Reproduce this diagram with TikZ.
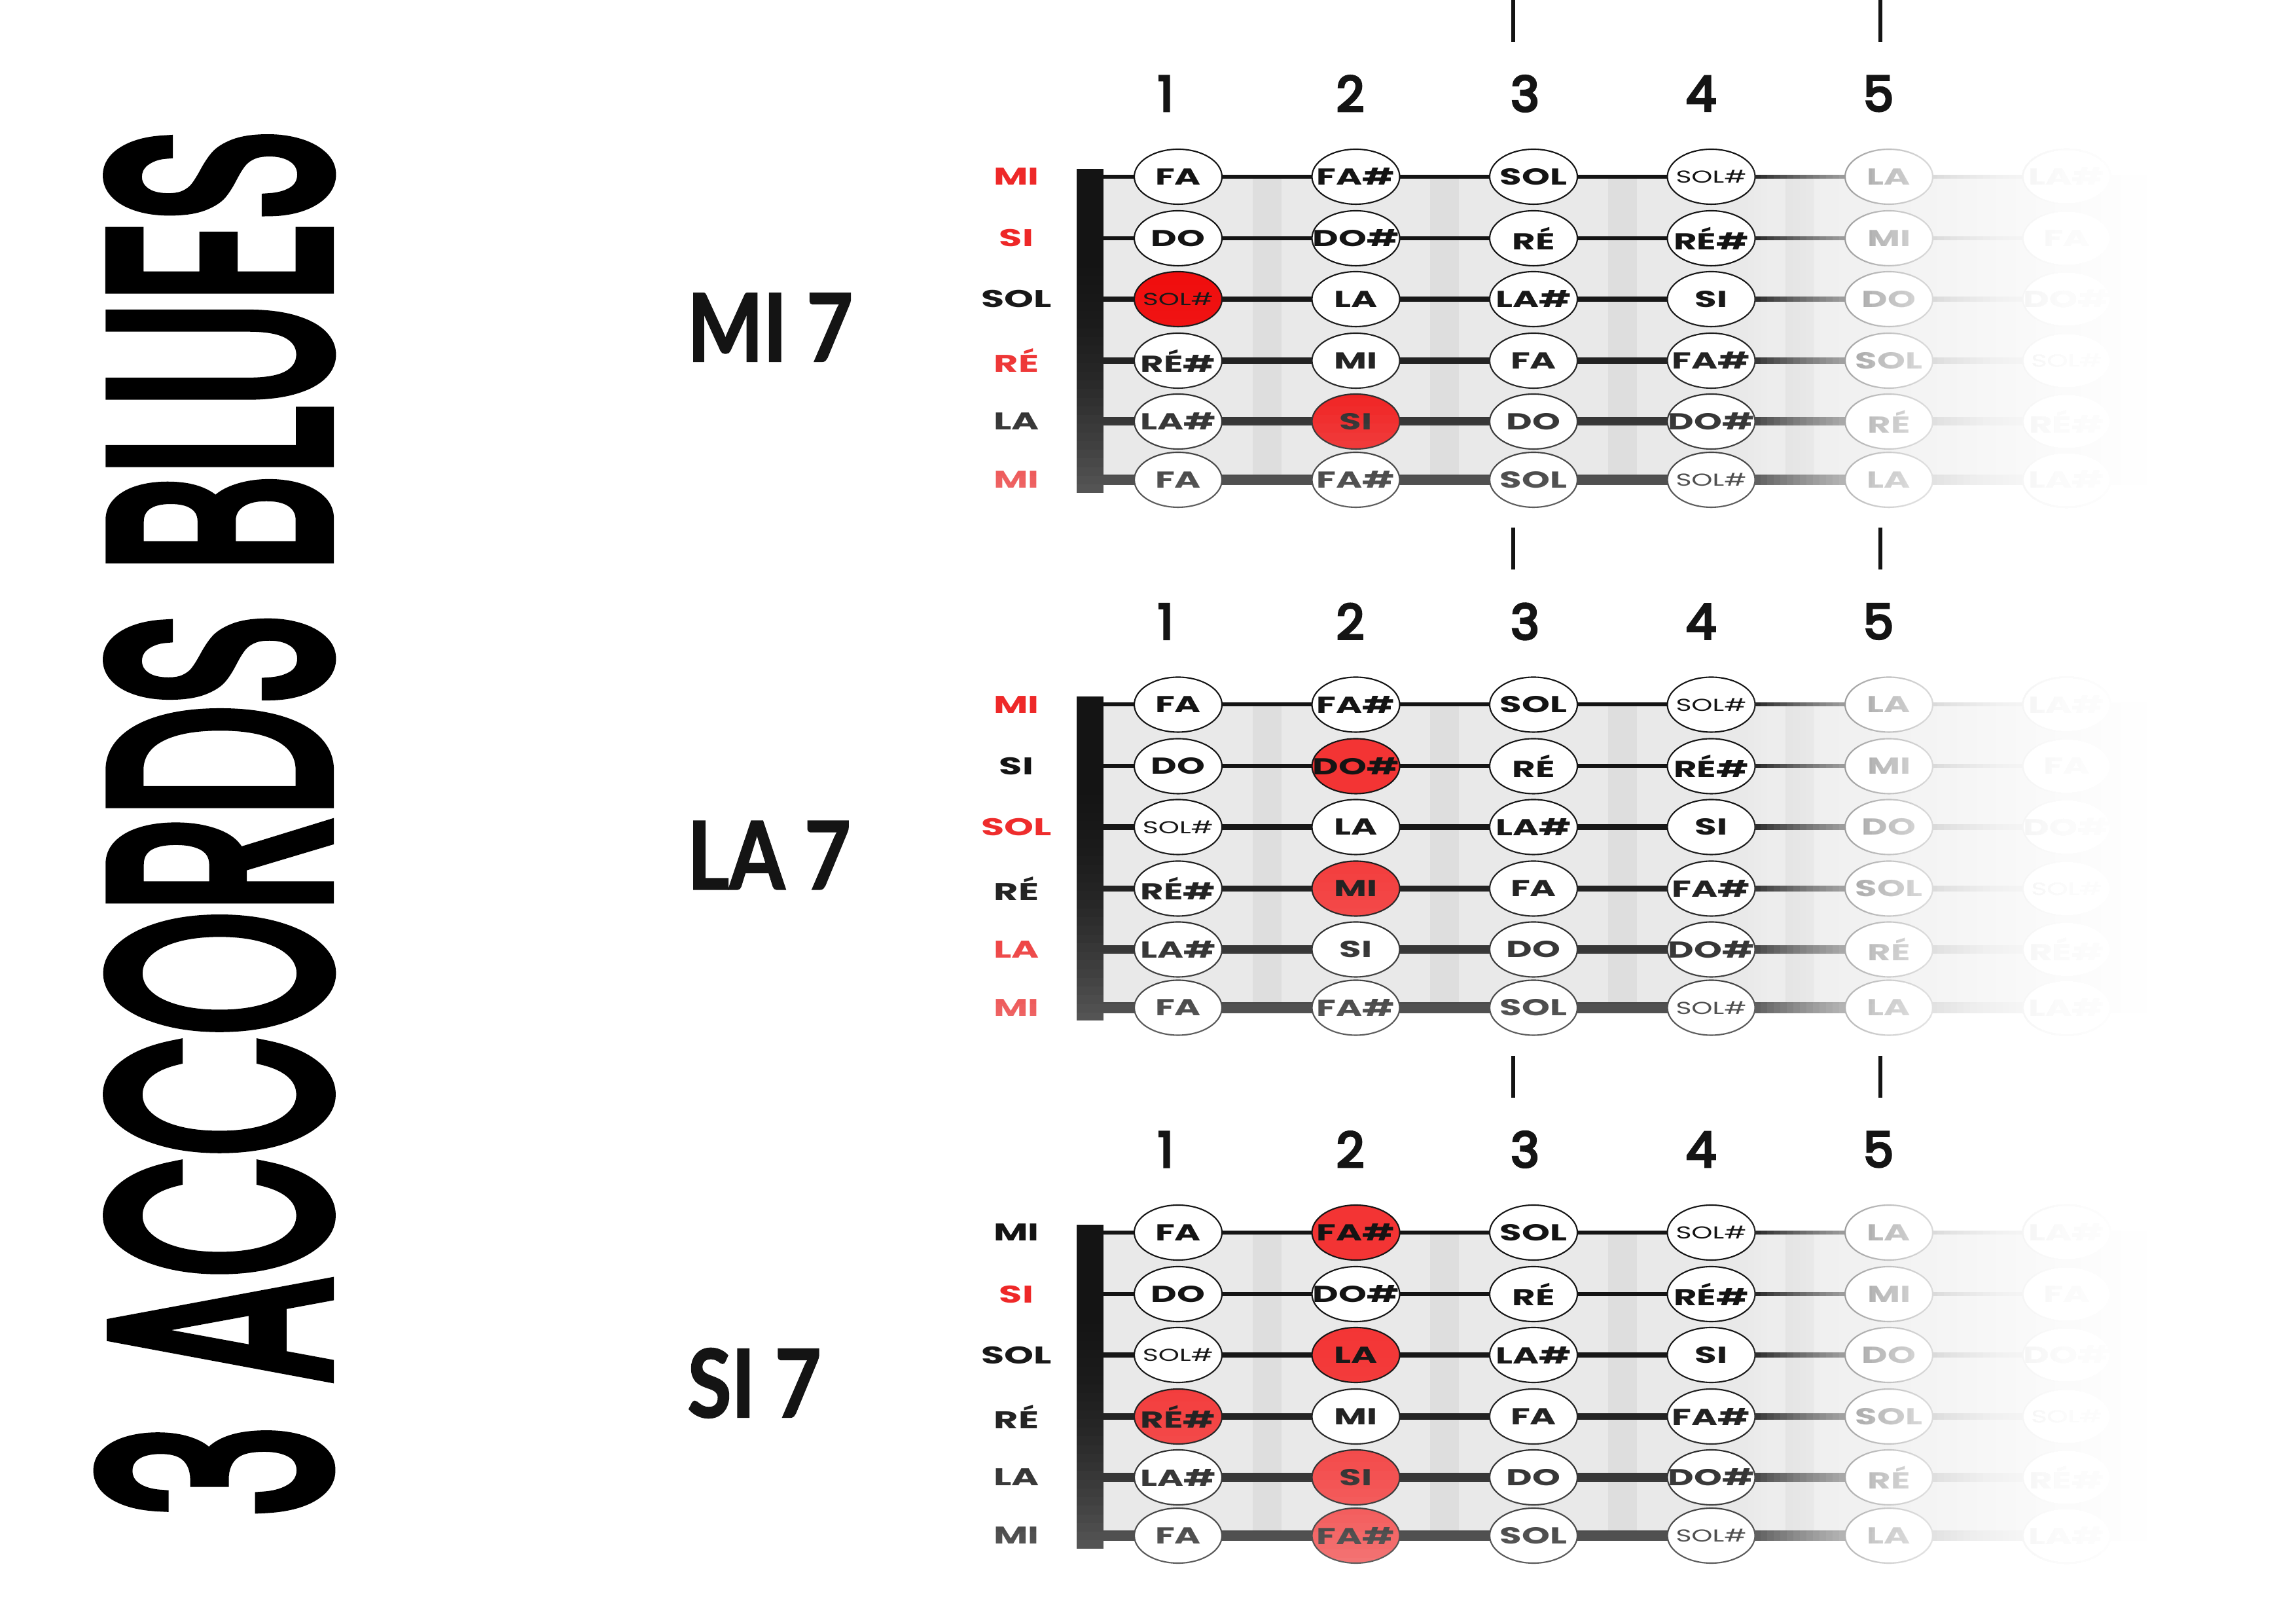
\documentclass[tikz,border=0pt]{standalone}
\usepackage{fontspec}
\setmainfont{Poppins}
\newfontfamily\notefont{Poppins}[FakeStretch=1.55]
\newfontfamily\titlefont{Poppins}[FakeBold=5]
\newfontfamily\chordfont{Lato}[FakeStretch=0.85, BoldFeatures={FakeBold=1.5}]
\usetikzlibrary{shapes.geometric}

\definecolor{ink}{RGB}{20,20,20}
\definecolor{hotred}{RGB}{240,12,12}
\definecolor{notered}{RGB}{243,52,52}
\definecolor{labred}{RGB}{238,40,40}
\definecolor{boardgray}{RGB}{233,233,233}
\definecolor{fretgray}{RGB}{222,222,222}

\newcommand{\smallnote}[1]{{\mdseries\fontsize{7.5}{8}\selectfont #1}}

\tikzset{
	note/.style={ellipse, draw=ink, line width=0.6pt, fill=white, minimum width=1.34cm, minimum height=0.84cm, inner sep=0pt, text=ink, font=\notefont\bfseries\fontsize{10}{11}\selectfont},
	strname/.style={text=ink, font=\notefont\bfseries\fontsize{10.5}{11}\selectfont},
	fretnum/.style={text=ink, font=\titlefont\fontsize{21}{21}\selectfont},
	chordname/.style={anchor=west, text=ink, font=\chordfont\bfseries\fontsize{41}{41}\selectfont},
	redlab/.style={text=labred},
	lab1-1/.style=redlab, lab1-2/.style=redlab, lab1-4/.style=redlab, lab1-6/.style=redlab,
	lab2-1/.style=redlab, lab2-3/.style=redlab, lab2-5/.style=redlab, lab2-6/.style=redlab,
	lab3-2/.style=redlab,
	hl1-3-1/.style={fill=hotred}, hl1-5-2/.style={fill=hotred},
	hl2-2-2/.style={fill=notered}, hl2-4-2/.style={fill=notered},
	hl3-1-2/.style={fill=notered}, hl3-3-2/.style={fill=notered}, hl3-4-1/.style={fill=notered},
	hl3-5-2/.style={fill=notered}, hl3-6-2/.style={fill=notered}
}

\begin{document}
\begin{tikzpicture}

	\useasboundingbox (0,0) rectangle (35.08,24.80);

	\node[rotate=90, inner sep=0pt] (title) at (3.28,12.225) {\resizebox{21.19cm}{3.44cm}{\titlefont 3 ACCORDS BLUES}};

	\foreach \dg/\dy/\chord in {1/0/{MI 7}, 2/-8.065/{LA 7}, 3/-16.13/{SI 7}}{
	\begin{scope}[yshift=\dy cm]

		\node[chordname] (chord\dg) at (10.38,19.80) {\chord};

		\draw[ink, line width=1.7pt] (23.12,24.80) -- (23.12,24.16);
		\draw[ink, line width=1.7pt] (28.73,24.80) -- (28.73,24.16);
		\foreach \k/\x in {1/17.81,2/20.63,3/23.30,4/25.99,5/28.70} \node[fretnum] (num\dg-\k) at (\x,23.37) {\k};

		\fill[boardgray] (16.86,17.47) rectangle (33.5,22.10);
		\foreach \x in {19.36,22.07,24.79,27.50,30.22} \fill[fretgray] (\x-0.22,17.47) rectangle (\x+0.22,22.10);

		\foreach \row/\y/\w/\sname/\notes in {
				1/22.10/1.7/MI/{FA,FA\#,SOL,\smallnote{SOL\#},LA,LA\#},
				2/21.16/1.7/SI/{DO,DO\#,RÉ,RÉ\#,MI,FA},
				3/20.23/2.3/SOL/{\smallnote{SOL\#},LA,LA\#,SI,DO,DO\#},
				4/19.29/2.8/RÉ/{RÉ\#,MI,FA,FA\#,SOL,\smallnote{SOL\#}},
				5/18.36/3.7/LA/{LA\#,SI,DO,DO\#,RÉ,RÉ\#},
				6/17.47/4.8/MI/{FA,FA\#,SOL,\smallnote{SOL\#},LA,LA\#}}{
			\coordinate (s\dg-\row) at (16.86,\y);
			\coordinate (e\dg-\row) at (33.5,\y);
			\draw[ink, line width=\w pt] (s\dg-\row) -- (e\dg-\row);
			\node[strname, lab\dg-\row/.try] (l\dg-\row) at (15.53,\y) {\sname};
			\foreach \nm [count=\col] in \notes {
				\pgfmathsetmacro\x{18.00+2.715*(\col-1)}
				\node[note, hl\dg-\row-\col/.try] (n\dg-\row-\col) at (\x,\y) {\makebox[0pt]{\nm}};
			}
		}

		\fill[ink] (16.45,17.27) rectangle (16.86,22.22);

		\foreach \j in {1,...,40}{
			\pgfmathsetmacro\op{1-(1-0.4*(\j/40)^2)/(1-0.4*((\j-1)/40)^2)}
			\fill[white, fill opacity=\op] (14.8,22.30-0.1325*\j) rectangle (35.08,16.95);
		}
		\foreach \i in {1,...,61}{
			\pgfmathsetmacro\op{1-((62-\i)/(63-\i))^3.2}
			\fill[white, fill opacity=\op] (26.6+0.1*\i,22.60) rectangle (35.08,16.95);
		}
		\fill[white] (32.8,22.60) rectangle (35.08,16.95);

	\end{scope}
	}

\end{tikzpicture}
\end{document}
